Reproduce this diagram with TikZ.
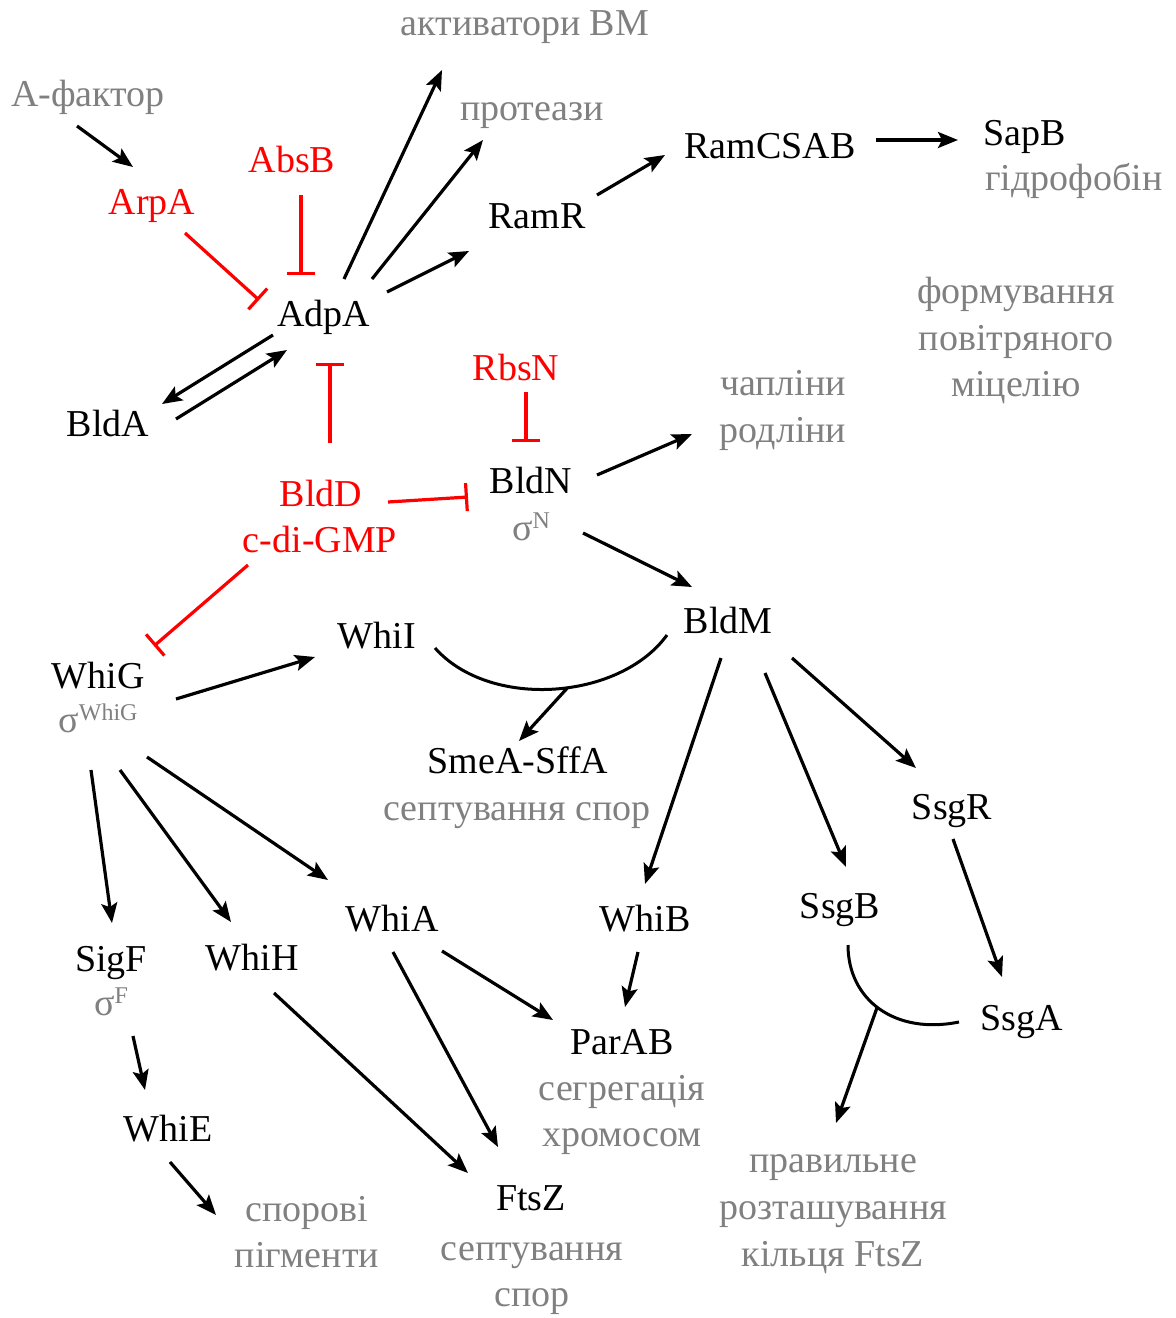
\documentclass[tikz,border=0pt]{standalone}
\usepackage{fontspec}
\setmainfont{Liberation Serif}
\usetikzlibrary{arrows.meta,calc}
\definecolor{grtxt}{RGB}{128,128,128}
\definecolor{rdtxt}{RGB}{255,0,0}
\newcommand{\sigsup}[1]{σ\raisebox{12pt}{\fontsize{24}{24}\selectfont #1}}
\begin{document}
\begin{tikzpicture}[x=1pt,y=-1pt,
  lab/.style={anchor=base, inner sep=0pt, font=\fontsize{38}{40}\selectfont},
  blk/.style={lab, text=black},
  rd/.style={lab, text=rdtxt},
  gr/.style={lab, text=grtxt},
  arr/.style={line width=3.2pt, draw=black, -{Stealth[length=20pt,width=16pt,inset=4pt]}},
  inh/.style={line width=3.2pt, draw=rdtxt, -{Bar[width=28pt]}},
  arcln/.style={line width=3pt, draw=black}]
\useasboundingbox (0,0) rectangle (1176,1318);
% ---- nodes ----
\node[gr] (Afak) at (88,106) {А-фактор};
\node[rd] (ArpA) at (152,214) {ArpA};
\node[rd] (AbsB) at (292,172) {AbsB};
\node[blk] (AdpA) at (324,326) {AdpA};
\node[gr] (actBM) at (525,35) {активатори ВМ};
\node[gr] (prot) at (532,120) {протеази};
\node[blk] (RamR) at (537,228) {RamR};
\node[blk] (RamC) at (770,158) {RamCSAB};
\node[blk] (SapB) at (1025,145) {SapB};
\node[gr] (hydro) at (1074,190) {гідрофобін};
\node[gr] (fm1) at (1016,303) {формування};
\node[gr] (fm2) at (1016,350) {повітряного};
\node[gr] (fm3) at (1016,396) {міцелію};
\node[blk] (BldA) at (108,436) {BldA};
\node[rd] (RbsN) at (516,380) {RbsN};
\node[gr] (chap1) at (783,395) {чапліни};
\node[gr] (chap2) at (783,442) {родліни};
\node[rd] (BldD) at (321,506) {BldD};
\node[rd] (cdi) at (320,552) {c-di-GMP};
\node[blk] (BldN) at (531,493) {BldN};
\node[gr] (sigN) at (531,540) {\sigsup{N}};
\node[blk] (BldM) at (728,633) {BldM};
\node[blk] (WhiI) at (377,648) {WhiI};
\node[blk] (WhiG) at (98,688) {WhiG};
\node[gr] (sigWG) at (98,732) {\sigsup{WhiG}};
\node[blk] (Smea) at (518,773) {SmeA-SffA};
\node[gr] (sept1) at (517,820) {септування спор};
\node[blk] (SsgR) at (952,819) {SsgR};
\node[blk] (WhiB) at (645,931) {WhiB};
\node[blk] (WhiA) at (392,931) {WhiA};
\node[blk] (SsgB) at (840,918) {SsgB};
\node[blk] (SigF) at (111,971) {SigF};
\node[blk] (WhiH) at (252,970) {WhiH};
\node[gr] (sigF) at (111,1015) {\sigsup{F}};
\node[blk] (ParAB) at (622,1054) {ParAB};
\node[gr] (segr) at (622,1100) {сегрегація};
\node[gr] (chrom) at (622,1146) {хромосом};
\node[blk] (SsgA) at (1022,1030) {SsgA};
\node[blk] (WhiE) at (168,1141) {WhiE};
\node[gr] (pr1) at (833,1172) {правильне};
\node[gr] (pr2) at (833,1219) {розташування};
\node[gr] (pr3) at (833,1266) {кільця FtsZ};
\node[blk] (FtsZ) at (531,1210) {FtsZ};
\node[gr] (sp1) at (532,1260) {септування};
\node[gr] (sp2) at (532,1306) {спор};
\node[gr] (spor1) at (307,1221) {спорові};
\node[gr] (spor2) at (307,1267) {пігменти};
% ---- connectors ----
\draw[arr] ($(Afak.base)+(-11,20)$) -- ($(ArpA.base)+(-19,-47)$);
\draw[inh] ($(ArpA.base)+(33,19)$) -- ($(AdpA.base)+(-65,-26)$);
\draw[inh] ($(AbsB.base)+(9,23)$) -- ($(AdpA.base)+(-23,-51)$);
\draw[arr] ($(AdpA.base)+(20,-47)$) -- ($(actBM.base)+(-83,35)$);
\draw[arr] ($(AdpA.base)+(48,-47)$) -- ($(prot.base)+(-49,20)$);
\draw[arr] ($(AdpA.base)+(63,-34)$) -- ($(RamR.base)+(-68,23)$);
\draw[arr] ($(RamR.base)+(60,-33)$) -- ($(RamC.base)+(-105,-3)$);
\draw[arr] ($(RamC.base)+(106,-18)$) -- ($(SapB.base)+(-67,-5)$);
\draw[arr] ($(AdpA.base)+(-51,9)$) -- ($(BldA.base)+(54,-32)$);
\draw[arr] ($(BldA.base)+(68,-17)$) -- ($(AdpA.base)+(-37,24)$);
\draw[inh] ($(BldD.base)+(9,-63)$) -- ($(AdpA.base)+(6,37)$);
\draw[inh] ($(RbsN.base)+(10,12)$) -- ($(BldN.base)+(-5,-51)$);
\draw[inh] ($(BldD.base)+(67,-4)$) -- ($(BldN.base)+(-63,4)$);
\draw[inh] ($(cdi.base)+(-72,13)$) -- ($(WhiG.base)+(56,-42)$);
\draw[arr] ($(BldN.base)+(66,-18)$) -- ($(chap2.base)+(-91,-8)$);
\draw[arr] ($(sigN.base)+(52,-7)$) -- ($(BldM.base)+(-36,-46)$);
\draw[arr] ($(WhiG.base)+(78,11)$) -- ($(WhiI.base)+(-62,9)$);
\draw[arcln] ($(WhiI.base)+(58,0)$) .. controls ($(WhiI.base)+(113,62)$) and ($(BldM.base)+(-108,67)$) .. coordinate[pos=0.55] (arcA) ($(BldM.base)+(-61,2)$);
\draw[arr] (arcA) -- ($(Smea.base)+(1,-32)$);
\draw[arr] ($(BldM.base)+(-7,25)$) -- ($(WhiB.base)+(0,-47)$);
\draw[arr] ($(BldM.base)+(37,40)$) -- ($(SsgB.base)+(6,-51)$);
\draw[arr] ($(BldM.base)+(64,25)$) -- ($(SsgR.base)+(-36,-51)$);
\draw[arr] ($(SsgR.base)+(1,20)$) -- ($(SsgA.base)+(-20,-53)$);
\draw[arcln] ($(SsgB.base)+(8,27)$) .. controls ($(SsgB.base)+(8,82)$) and ($(SsgA.base)+(-127,5)$) .. coordinate[pos=0.48] (arcB) ($(SsgA.base)+(-63,-8)$);
\draw[arr] (arcB) -- ($(pr1.base)+(3,-49)$);
\draw[arr] ($(WhiB.base)+(-7,21)$) -- ($(ParAB.base)+(3,-47)$);
\draw[arr] ($(sigWG.base)+(-7,38)$) -- ($(SigF.base)+(1,-48)$);
\draw[arr] ($(sigWG.base)+(22,38)$) -- ($(WhiH.base)+(-21,-48)$);
\draw[arr] ($(sigWG.base)+(49,25)$) -- ($(WhiA.base)+(-64,-51)$);
\draw[arr] ($(WhiA.base)+(50,20)$) -- ($(ParAB.base)+(-69,-34)$);
\draw[arr] ($(WhiA.base)+(1,21)$) -- ($(FtsZ.base)+(-33,-63)$);
\draw[arr] ($(WhiH.base)+(22,23)$) -- ($(FtsZ.base)+(-63,-37)$);
\draw[arr] ($(sigF.base)+(22,21)$) -- ($(WhiE.base)+(-23,-51)$);
\draw[arr] ($(WhiE.base)+(2,21)$) -- ($(spor1.base)+(-91,-6)$);
\end{tikzpicture}
\end{document}
